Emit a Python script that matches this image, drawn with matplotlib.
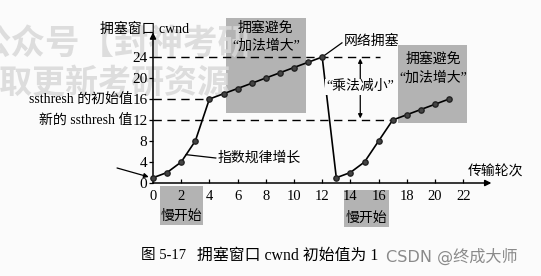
import matplotlib
matplotlib.use("Agg")
import matplotlib.pyplot as plt
from matplotlib.patches import Rectangle

plt.rcParams['font.family'] = ['Liberation Serif', 'Noto Sans CJK SC']

# data: transmission round vs cwnd
rounds = list(range(0, 22))
cwnd = [1, 2, 4, 8, 16, 17, 18, 19, 20, 21, 22, 23, 24,
        1, 2, 4, 8, 12, 13, 14, 15, 16]
ssthresh_init = 16
ssthresh_new = 12
peak = 24

xticks = list(range(0, 24, 2))
yticks = list(range(0, 28, 4))

W, H = 541, 276
fig = plt.figure(figsize=(W / 100, H / 100), dpi=100)
fig.patch.set_facecolor('#fbfbfb')

# axes placed so that x=0..24, y=0..28.5 map to the picture
ax = fig.add_axes([153 / W, 93 / H, 338.4 / W, 149.6 / H])
ax.set_xlim(0, 24)
ax.set_ylim(0, 28.5)
ax.patch.set_visible(False)
for s in ['top', 'right', 'left', 'bottom']:
    ax.spines[s].set_visible(False)

# axes with arrows
ax.annotate('', xy=(24, 0), xytext=(0, 0), annotation_clip=False,
            arrowprops=dict(arrowstyle='-|>', color='black', lw=1.1,
                            mutation_scale=9, shrinkA=0, shrinkB=0))
ax.annotate('', xy=(0, 28.7), xytext=(0, 0), annotation_clip=False,
            arrowprops=dict(arrowstyle='-|>', color='black', lw=1.1,
                            mutation_scale=9, shrinkA=0, shrinkB=0))

ax.set_xticks(xticks)
ax.set_yticks(yticks)
ax.tick_params(axis='x', direction='in', length=3, width=0.9, pad=5, labelsize=10.5)
ax.tick_params(axis='y', direction='out', length=3, width=0.9, pad=1, labelsize=11)

# gray boxes
box_c = '#b3b3b3'
for (x0, x1, y0, y1) in [(5.2, 10.85, 13.3, 31.4), (17.4, 22.3, 11.4, 26.3),
                         (0.5, 3.55, -8.0, -0.6), (13.55, 16.75, -8.4, -1.3)]:
    ax.add_patch(Rectangle((x0, y0), x1 - x0, y1 - y0, facecolor=box_c,
                           edgecolor='none', zorder=0, clip_on=False))

# watermark
ax.text(-23 / W, 1 - 43 / H, '公众号【封神考研', transform=fig.transFigure,
        fontsize=24.8, fontweight='bold', color='#d8d8d8', alpha=0.85,
        ha='left', va='center', family='Noto Sans CJK SC', zorder=0.5)
ax.text(-34 / W, 1 - 83 / H, '获取更新考研资源', transform=fig.transFigure,
        fontsize=23.8, fontweight='bold', color='#d8d8d8', alpha=0.85,
        ha='left', va='center', family='Noto Sans CJK SC', zorder=0.5)

# dashed reference lines
dash = (0, (6, 4))
ax.hlines(peak, 0, 16.1, colors='black', linestyles=dash, lw=1, zorder=1)
ax.hlines(ssthresh_init, 0, cwnd.index(ssthresh_init), colors='black',
          linestyles=dash, lw=1, zorder=1)
ax.hlines(ssthresh_new, 0, rounds[cwnd.index(ssthresh_new)], colors='black',
          linestyles=dash, lw=1, zorder=1)

# main curve
ax.plot(rounds, cwnd, color='black', lw=1.2, marker='o', markersize=3.8,
        markerfacecolor='#444444', markeredgecolor='#222222', zorder=3,
        clip_on=False)

# texts
fs = 10
ax.text(-3.76, 29.3, '拥塞窗口 cwnd', fontsize=fs, ha='left', va='center')
ax.text(-1.45, ssthresh_init, 'ssthresh 的初始值', fontsize=fs, ha='right', va='center')
ax.text(-1.45, ssthresh_new, '新的 ssthresh 值', fontsize=fs, ha='right', va='center')
ax.text(8.0, 29.5, '拥塞避免', fontsize=fs, ha='center', va='center', zorder=4)
ax.text(8.0, 26.1, '“加法增大”', fontsize=fs, ha='center', va='center', zorder=4)
ax.text(19.9, 23.6, '拥塞避免', fontsize=fs, ha='center', va='center', zorder=4)
ax.text(19.9, 20.0, '“加法增大”', fontsize=fs, ha='center', va='center', zorder=4)
ax.text(2.0, -6.3, '慢开始', fontsize=fs, ha='center', va='center')
ax.text(15.1, -6.7, '慢开始', fontsize=fs, ha='center', va='center')
ax.text(22.3, 2.1, '传输轮次', fontsize=fs, ha='left', va='center')

# 网络拥塞 leader
ax.plot([12, 13.4], [24, 26.7], color='black', lw=0.9, zorder=2)
ax.text(13.5, 26.9, '网络拥塞', fontsize=fs, ha='left', va='center')

# 指数规律增长 leader
ax.plot([2.35, 4.45], [5.4, 4.76], color='black', lw=0.9, zorder=2)
ax.text(4.55, 4.76, '指数规律增长', fontsize=fs, ha='left', va='center')

# initial arrow from the left
ax.annotate('', xy=(-0.3, 1.15), xytext=(-2.55, 2.86), annotation_clip=False,
            arrowprops=dict(arrowstyle='-|>', color='black', lw=0.9,
                            mutation_scale=7, shrinkA=0, shrinkB=0))

# 乘法减小 double arrow
ax.annotate('', xy=(14.7, peak - 0.3), xytext=(14.7, ssthresh_new + 0.3),
            arrowprops=dict(arrowstyle='<|-|>', color='black', lw=0.9,
                            mutation_scale=6, shrinkA=0, shrinkB=0), zorder=2)
ax.text(14.7, 18.3, '“乘法减小”', fontsize=fs, ha='center', va='center', zorder=4,
        bbox=dict(facecolor='#fbfbfb', edgecolor='none', pad=1))

# caption
fig.text(141 / W, 1 - 256 / H, '图 5-17', fontsize=10.5, ha='left', va='center')
fig.text(197 / W, 1 - 256 / H, '拥塞窗口 cwnd 初始值为 1', fontsize=11.4,
         ha='left', va='center')
fig.text(386 / W, 1 - 256 / H, 'CSDN @终成大师', fontsize=11.6, color='#8a8a8a',
         ha='left', va='center', family=['DejaVu Sans', 'Noto Sans CJK SC'])

fig.savefig('out.png', dpi=100, facecolor=fig.get_facecolor())
